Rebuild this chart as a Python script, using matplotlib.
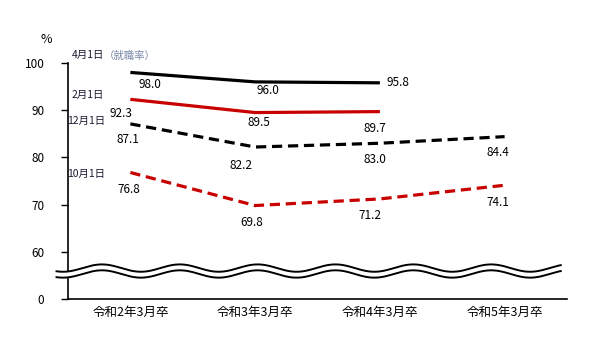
import numpy as np
import matplotlib.pyplot as plt

plt.rcParams['font.family'] = ['Noto Sans CJK JP', 'DejaVu Sans']

categories = ["令和2年3月卒", "令和3年3月卒", "令和4年3月卒", "令和5年3月卒"]
apr1 = [98.0, 96.0, 95.8]          # 4月1日（就職率）
feb1 = [92.3, 89.5, 89.7]          # 2月1日
dec1 = [87.1, 82.2, 83.0, 84.4]    # 12月1日
oct1 = [76.8, 69.8, 71.2, 74.1]    # 10月1日
ytick_vals = [50, 60, 70, 80, 90, 100]
ytick_labels = ["0", "60", "70", "80", "90", "100"]

red = "#c80000"
txt = "#1a1a30"

fig = plt.figure(figsize=(6.05, 3.45), dpi=100)
ax = fig.add_axes([68 / 605, 1 - 299 / 345, 499 / 605, 236 / 345])
x = np.arange(len(categories)) + 0.5

ax.plot(x[:3], apr1, color="black", lw=2.3, solid_capstyle="butt")
ax.plot(x[:3], feb1, color=red, lw=2.3, solid_capstyle="butt")
ax.plot(x, dec1, color="black", lw=2.3, dashes=(3.2, 1.8))
ax.plot(x, oct1, color=red, lw=2.3, dashes=(3.2, 1.8))

# value labels: offsets in pixels from the point
offs = {
    0: [(20, -12), (13, -9), (18, 0)],
    1: [(-9, -14), (4, -10), (-5, -17)],
    2: [(-2, -16), (-14, -18), (-5, -16), (-7, -16)],
    3: [(-2, -17), (-3, -17), (-10, -17), (-7, -17)],
}
for k, ser in enumerate([apr1, feb1, dec1, oct1]):
    for i, v in enumerate(ser):
        ax.annotate(f"{v:.1f}", (x[i], v), xytext=offs[k][i], textcoords="offset pixels",
                    ha="center", va="center", fontsize=8.5, color="black")

# series labels
ax.text(0.03, 101.6, "4月1日", fontsize=7.5, color=txt, va="center", clip_on=False)
ax.text(0.285, 101.6, "（就職率）", fontsize=7.5, color="#7a8aa8", va="center", clip_on=False)
ax.text(0.03, 93.3, "2月1日", fontsize=7.5, color=txt, va="center")
ax.text(-0.01, 87.8, "12月1日", fontsize=7.5, color=txt, va="center", clip_on=False)
ax.text(-0.01, 76.4, "10月1日", fontsize=7.5, color=txt, va="center", clip_on=False)

# wavy break
xw = np.linspace(-0.092, 3.95, 600)
wave = 0.78 * np.cos(2 * np.pi * (xw - 0.272) / 0.624)
up = 56.55 + wave
lo = 55.3 + wave
ax.fill_between(xw, lo, up, color="white", zorder=5, clip_on=False, lw=0)
ax.plot(xw, up, color="black", lw=1.4, zorder=6, clip_on=False)
ax.plot(xw, lo, color="black", lw=1.4, zorder=6, clip_on=False)

ax.set_xlim(0, 4)
ax.set_ylim(50, 100)
ax.set_xticks(x)
ax.set_xticklabels(categories, fontsize=9)
ax.tick_params(axis="x", length=0, pad=5)
ax.set_yticks(ytick_vals)
ax.set_yticklabels(ytick_labels, fontsize=8.5)
ax.tick_params(axis="y", length=5, width=1, pad=12)
for s in ["top", "right"]:
    ax.spines[s].set_visible(False)
for s in ["left", "bottom"]:
    ax.spines[s].set_linewidth(1.2)
ax.text(-0.044, 1.10, "%", transform=ax.transAxes, fontsize=9, ha="center", va="center")

fig.savefig("out.png", dpi=100)
